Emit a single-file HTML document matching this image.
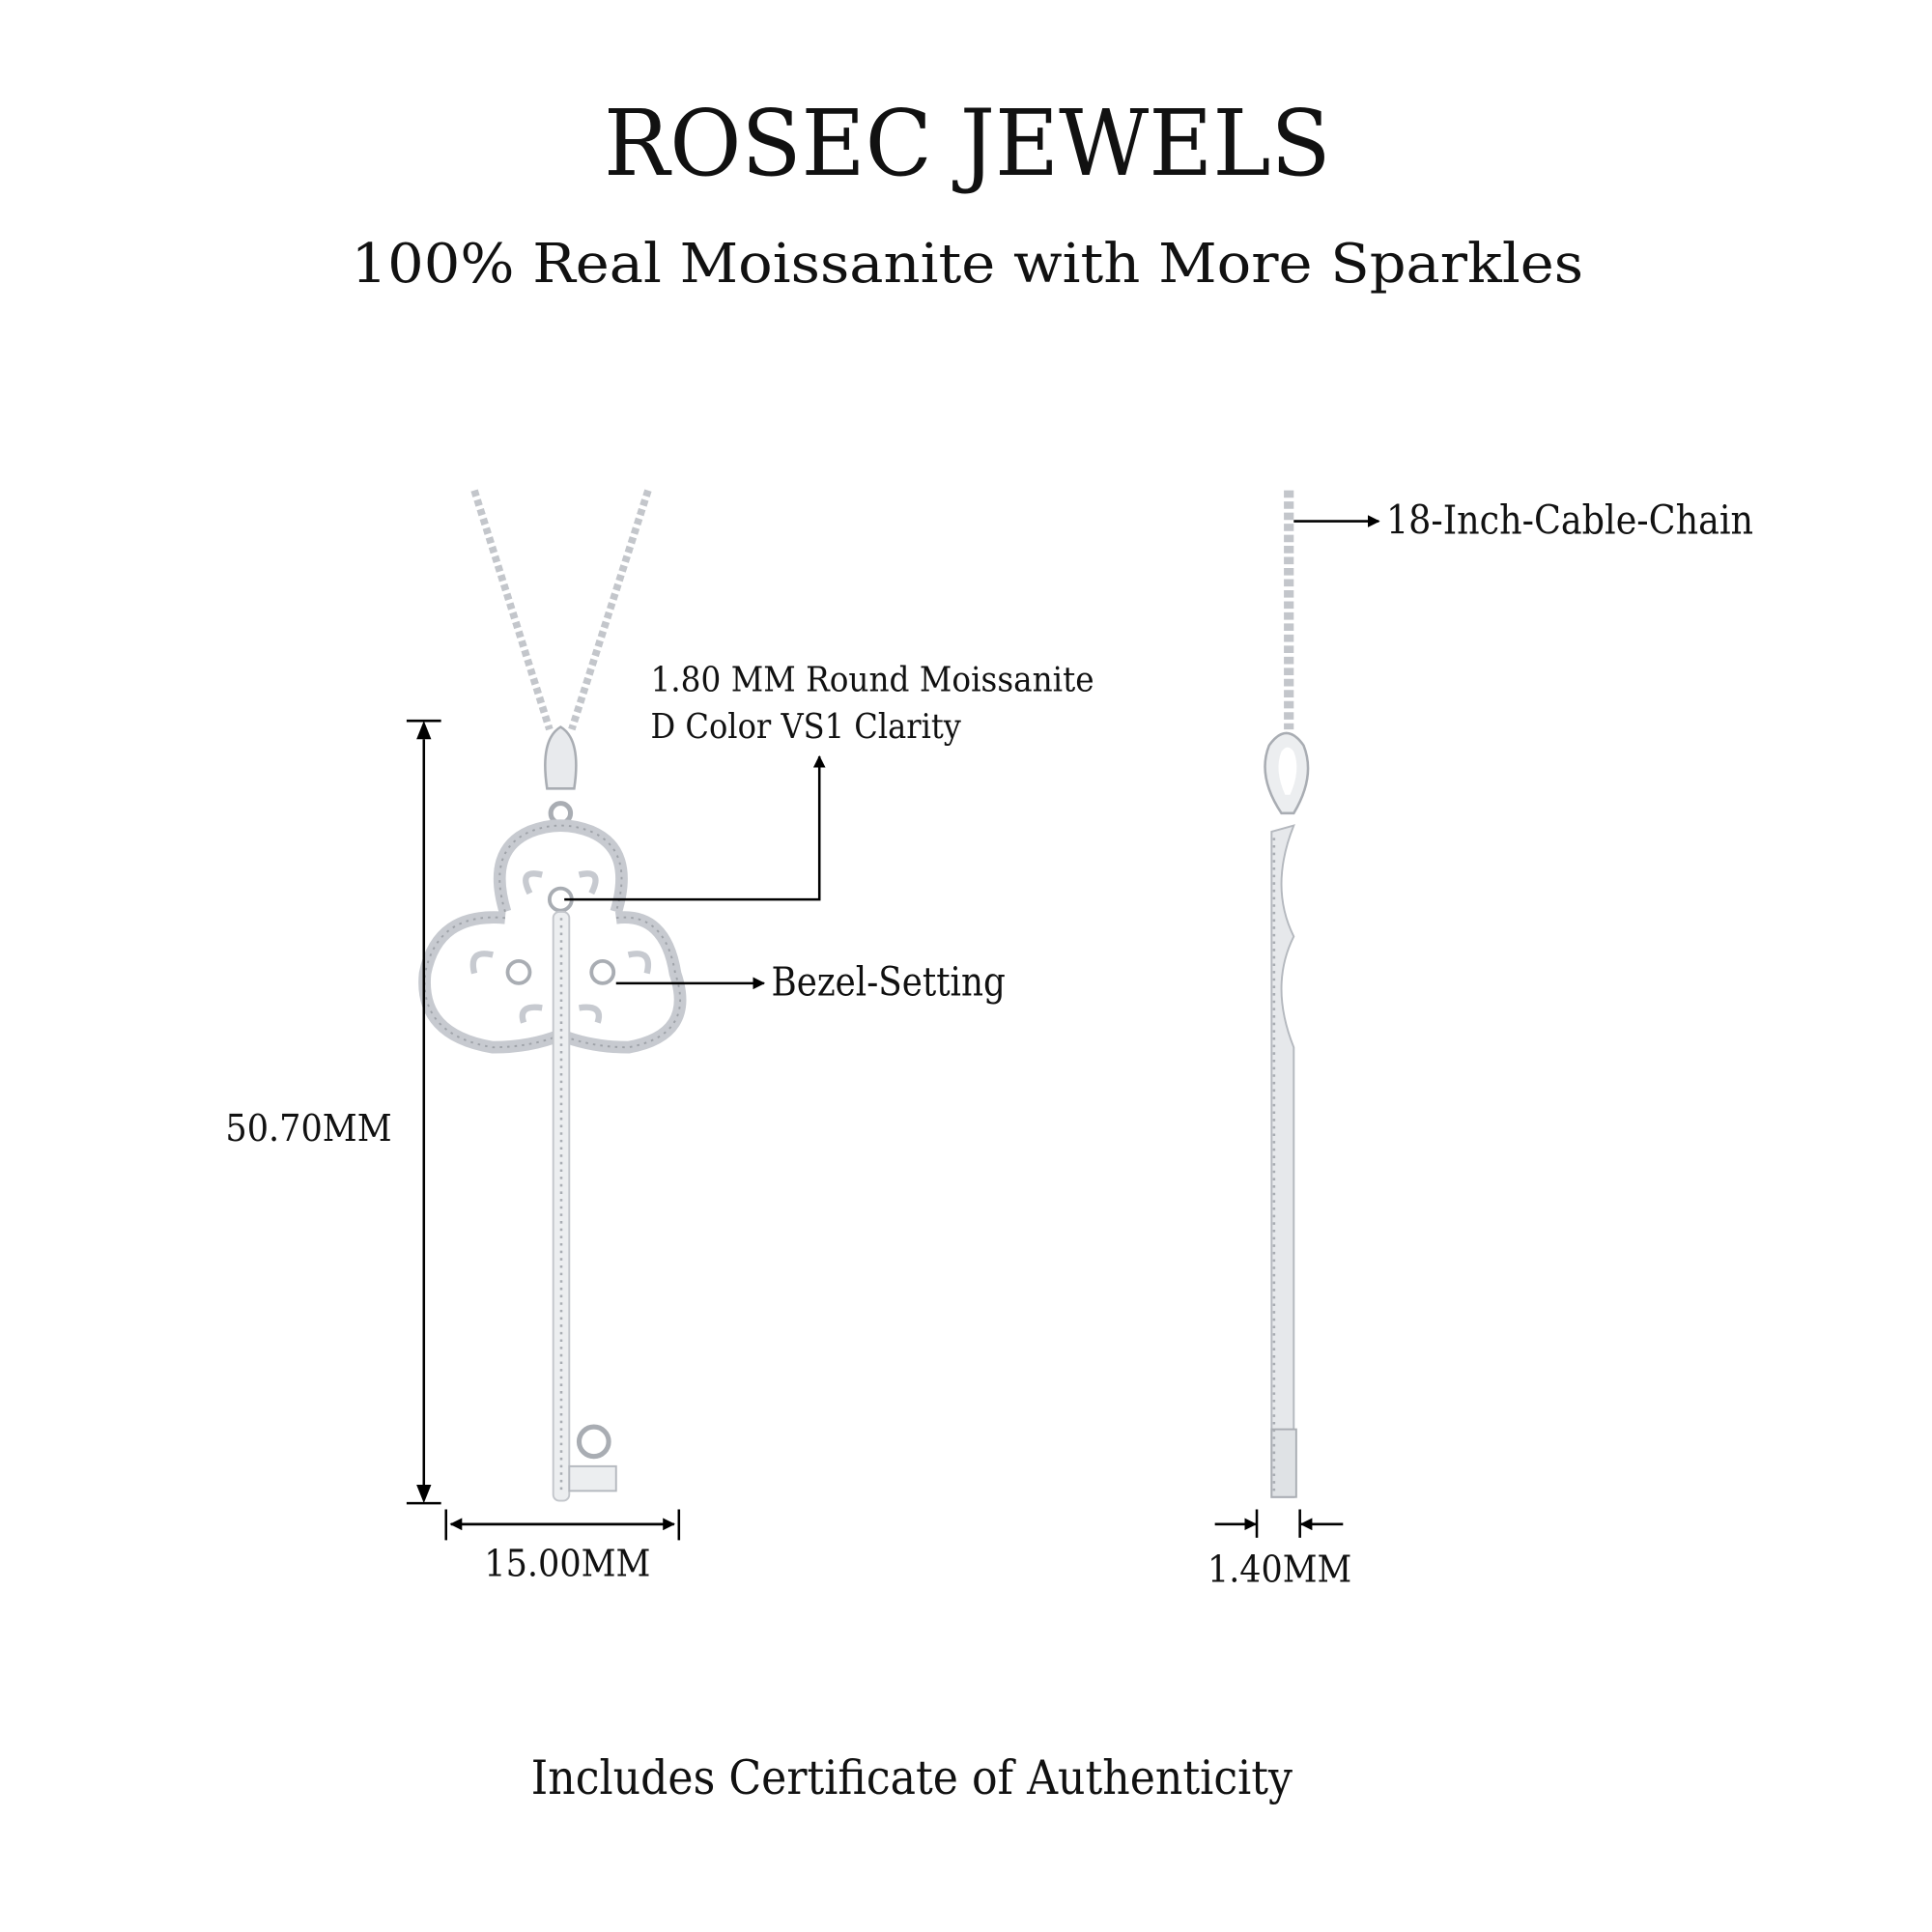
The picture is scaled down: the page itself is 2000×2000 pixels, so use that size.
<!DOCTYPE html>
<html><head><meta charset="utf-8"><style>
html,body{margin:0;padding:0;background:#fff;}
svg{display:block;}
text{font-family:"DejaVu Serif","Liberation Serif",serif;fill:#111;}
</style></head><body>
<svg width="2000" height="2000" viewBox="0 0 1568 1568" xmlns="http://www.w3.org/2000/svg">
<defs>
<marker id="ar" markerWidth="10" markerHeight="10" refX="9" refY="5" orient="auto" markerUnits="userSpaceOnUse"><path d="M0,0 L10,5 L0,10 Z" fill="#000"/></marker>
</defs>
<rect width="1568" height="1568" fill="#fff"/>
<text x="490" y="142" font-size="74" textLength="590" lengthAdjust="spacingAndGlyphs">ROSEC JEWELS</text>
<text x="285" y="229" font-size="44" textLength="1000" lengthAdjust="spacingAndGlyphs">100% Real Moissanite with More Sparkles</text>

<path d="M385,398 L446,592" stroke="#c3c6cb" stroke-width="6" stroke-dasharray="5 3" fill="none"/>
<path d="M526,398 L464,592" stroke="#c3c6cb" stroke-width="6" stroke-dasharray="5 3" fill="none"/>
<path d="M444,640 Q438,600 455,590 Q472,600 466,640 Z" fill="#e8eaed" stroke="#a9adb3" stroke-width="2"/>
<circle cx="455" cy="660" r="8" fill="none" stroke="#a9adb3" stroke-width="4"/>
<g fill="none" stroke="#c7cad0" stroke-width="10">
<path d="M410,740 Q395,690 430,675 Q455,665 480,675 Q515,690 500,740"/>
<path d="M410,745 Q355,740 345,790 Q340,840 400,850 Q430,850 455,840 Q480,850 510,850 Q565,840 548,790 Q540,740 500,745"/>
</g>
<g fill="none" stroke="#9ea2a8" stroke-width="1.5" stroke-dasharray="2 4">
<path d="M410,740 Q395,690 430,675 Q455,665 480,675 Q515,690 500,740"/>
<path d="M410,745 Q355,740 345,790 Q340,840 400,850 Q430,850 455,840 Q480,850 510,850 Q565,840 548,790 Q540,740 500,745"/>
</g>
<g fill="none" stroke="#c7cad0" stroke-width="5">
<path d="M430,725 Q420,705 440,710"/><path d="M480,725 Q490,705 470,710"/>
<path d="M400,775 Q380,770 385,790"/><path d="M510,775 Q530,770 525,790"/>
<path d="M425,830 Q420,815 440,818"/><path d="M485,830 Q490,815 470,818"/>
</g>
<circle cx="455" cy="730" r="9" fill="#fff" stroke="#a9adb3" stroke-width="3"/>
<circle cx="421" cy="789" r="9" fill="#fff" stroke="#a9adb3" stroke-width="3"/>
<circle cx="489" cy="789" r="9" fill="#fff" stroke="#a9adb3" stroke-width="3"/>
<rect x="449" y="740" width="13" height="478" rx="5" fill="#eceef0" stroke="#c3c6cb" stroke-width="1.5"/>
<line x1="455.5" y1="745" x2="455.5" y2="1212" stroke="#a9adb3" stroke-width="2" stroke-dasharray="2 4"/>
<circle cx="482" cy="1170" r="12" fill="#fff" stroke="#a9adb3" stroke-width="4"/>
<rect x="462" y="1190" width="38" height="20" fill="#eceef0" stroke="#b4b8be" stroke-width="1.5"/>

<line x1="1046" y1="398" x2="1046" y2="592" stroke="#c3c6cb" stroke-width="8" stroke-dasharray="6 3"/>
<path d="M1040,660 Q1020,630 1030,605 Q1044,585 1058,605 Q1068,630 1050,660 Z" fill="#eceef0" stroke="#a9adb3" stroke-width="2"/>
<path d="M1043,645 Q1034,625 1040,610 Q1045,603 1050,610 Q1056,625 1047,645 Z" fill="#fff"/>
<path d="M1032,675 L1050,670 Q1030,720 1050,760 Q1030,800 1050,850 L1050,1215 L1032,1215 Z" fill="#e6e8eb" stroke="#b4b8be" stroke-width="1.5"/>
<rect x="1032" y="1160" width="20" height="55" fill="#dfe2e5" stroke="#a9adb3" stroke-width="1.5"/>
<line x1="1034" y1="680" x2="1034" y2="1210" stroke="#a9adb3" stroke-width="2" stroke-dasharray="2 4"/>

<g stroke="#000" stroke-width="2" fill="none">
<line x1="330" y1="585" x2="358" y2="585"/><line x1="330" y1="1220" x2="358" y2="1220"/>
<line x1="344" y1="600" x2="344" y2="1205"/>
<line x1="362" y1="1225" x2="362" y2="1250"/><line x1="551" y1="1225" x2="551" y2="1250"/>
<line x1="1020" y1="1225" x2="1020" y2="1248"/><line x1="1055" y1="1225" x2="1055" y2="1248"/>
</g>
<path d="M344,585 L338,600 L350,600 Z M344,1220 L338,1205 L350,1205 Z"/>
<line x1="366" y1="1237" x2="547" y2="1237" stroke="#000" stroke-width="2" marker-end="url(#ar)"/>
<line x1="547" y1="1237" x2="366" y2="1237" stroke="#000" stroke-width="2" marker-end="url(#ar)"/>
<line x1="986" y1="1237" x2="1019" y2="1237" stroke="#000" stroke-width="2" marker-end="url(#ar)"/>
<line x1="1090" y1="1237" x2="1056" y2="1237" stroke="#000" stroke-width="2" marker-end="url(#ar)"/>

<polyline points="458,730 665,730 665,614" fill="none" stroke="#000" stroke-width="2" marker-end="url(#ar)"/>
<line x1="500" y1="798" x2="620" y2="798" stroke="#000" stroke-width="2" marker-end="url(#ar)"/>
<line x1="1050" y1="423" x2="1119" y2="423" stroke="#000" stroke-width="2" marker-end="url(#ar)"/>

<text x="528" y="561" font-size="28" textLength="360" lengthAdjust="spacingAndGlyphs">1.80 MM Round Moissanite</text>
<text x="528" y="599" font-size="28" textLength="252" lengthAdjust="spacingAndGlyphs">D Color VS1 Clarity</text>
<text x="626" y="808" font-size="32" textLength="190" lengthAdjust="spacingAndGlyphs">Bezel-Setting</text>
<text x="1125" y="433" font-size="32" textLength="298" lengthAdjust="spacingAndGlyphs">18-Inch-Cable-Chain</text>
<text x="183" y="926" font-size="30" textLength="135" lengthAdjust="spacingAndGlyphs">50.70MM</text>
<text x="393" y="1279" font-size="30" textLength="135" lengthAdjust="spacingAndGlyphs">15.00MM</text>
<text x="980" y="1284" font-size="30" textLength="117" lengthAdjust="spacingAndGlyphs">1.40MM</text>
<text x="431" y="1456" font-size="38" textLength="618" lengthAdjust="spacingAndGlyphs">Includes Certificate of Authenticity</text>
</svg>
</body></html>
